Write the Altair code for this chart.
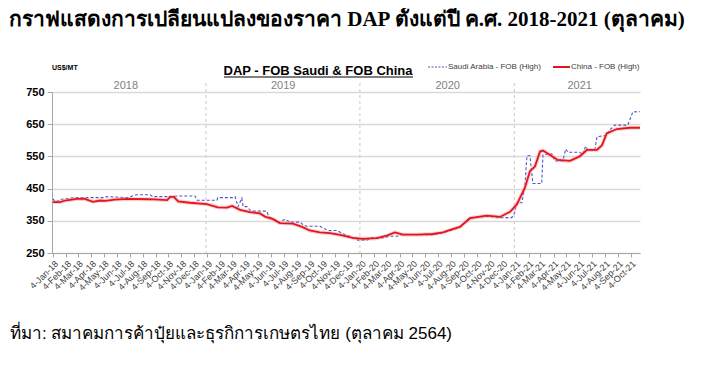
import altair as alt
import pandas as pd

# ---------------- data ----------------
china_dates = ["2018/01/03", "2018/01/20", "2018/02/01", "2018/03/01", "2018/03/20", "2018/04/08",
               "2018/04/25", "2018/05/07", "2018/05/30", "2018/06/28", "2018/08/21", "2018/10/01",
               "2018/10/08", "2018/10/17", "2018/10/27", "2018/11/24", "2019/01/03", "2019/01/29",
               "2019/02/20", "2019/03/04", "2019/03/23", "2019/04/15", "2019/05/09", "2019/05/21",
               "2019/06/09", "2019/06/25", "2019/07/26", "2019/08/17", "2019/09/04", "2019/09/28",
               "2019/10/22", "2019/11/15", "2019/12/15", "2020/01/08", "2020/02/10", "2020/03/05",
               "2020/03/24", "2020/04/12", "2020/05/15", "2020/06/22", "2020/07/16", "2020/08/08",
               "2020/08/25", "2020/09/18", "2020/10/28", "2020/11/28", "2020/12/22", "2021/01/07",
               "2021/01/26", "2021/02/07", "2021/02/19", "2021/03/03", "2021/03/10", "2021/03/26",
               "2021/04/14", "2021/05/13", "2021/06/05", "2021/06/22", "2021/07/16", "2021/07/28",
               "2021/08/08", "2021/09/01", "2021/10/02", "2021/10/26"]
china_values = [408, 408, 413, 418, 418, 409,
                413, 412, 416, 418, 417, 414,
                424, 424, 410, 406, 402, 392,
                391, 396, 384, 377, 373, 363,
                355, 343, 341, 331, 320, 314,
                312, 306, 297, 294, 296, 304,
                314, 307, 307, 309, 314, 324,
                331, 358, 366, 362, 378, 401,
                452, 504, 519, 565, 568, 555,
                539, 536, 550, 570, 570, 585,
                621, 635, 639, 639]

saudi_dates = ["2018/01/03", "2018/01/10", "2018/01/20", "2018/02/24", "2018/05/06", "2018/05/11",
               "2018/06/28", "2018/07/21", "2018/08/21", "2018/08/28", "2018/10/08", "2018/10/24",
               "2018/12/06", "2018/12/11", "2019/01/27", "2019/01/29", "2019/03/06", "2019/03/11",
               "2019/03/18", "2019/03/27", "2019/03/30", "2019/04/08", "2019/04/15", "2019/04/20",
               "2019/05/25", "2019/05/30", "2019/06/25", "2019/07/07", "2019/07/19", "2019/08/12",
               "2019/08/19", "2019/08/28", "2019/09/28", "2019/10/17", "2019/11/07", "2019/11/22",
               "2019/12/08", "2019/12/27", "2020/01/18", "2020/01/25", "2020/02/24", "2020/03/12",
               "2020/03/29", "2020/04/12", "2020/05/15", "2020/06/22", "2020/07/16", "2020/08/08",
               "2020/08/25", "2020/09/18", "2020/10/28", "2020/11/28", "2020/12/26", "2021/01/02",
               "2021/01/07", "2021/01/19", "2021/01/26", "2021/01/31", "2021/02/07", "2021/02/14",
               "2021/03/07", "2021/03/10", "2021/03/31", "2021/04/07", "2021/04/26", "2021/05/03",
               "2021/05/08", "2021/06/05", "2021/06/12", "2021/06/19", "2021/06/24", "2021/07/11",
               "2021/07/16", "2021/08/08", "2021/08/15", "2021/08/27", "2021/09/27", "2021/10/09",
               "2021/10/26"]
saudi_values = [418, 408, 416, 422, 422, 425,
                422, 431, 431, 425, 425, 427,
                427, 414, 414, 422, 422, 425,
                394, 420, 394, 394, 384, 380,
                380, 363, 345, 355, 346, 346,
                338, 333, 333, 320, 320, 310,
                302, 290, 290, 297, 297, 302,
                302, 308, 307, 306, 313, 322,
                330, 358, 364, 360, 360, 376,
                406, 406, 458, 552, 552, 466,
                466, 555, 558, 536, 536, 573,
                563, 563, 555, 582, 570, 570,
                611, 615, 632, 647, 647, 688,
                689]

year_labels = ["2018", "2019", "2020", "2021"]
year_label_dates = ["2018/06/25", "2019/07/03", "2020/07/27", "2021/06/05"]
year_break_dates = ["2019/01/01", "2020/01/01", "2021/01/01"]
y_ticks = [250, 350, 450, 550, 650, 750]

main_title = "กราฟแสดงการเปลี่ยนแปลงของราคา DAP ตั้งแต่ปี ค.ศ. 2018-2021 (ตุลาคม)"
chart_title = "DAP - FOB Saudi & FOB China"
unit_label = "US$/MT"
legend_saudi = "Saudi Arabia - FOB (High)"
legend_china = "China - FOB (High)"
footer = "ที่มา: สมาคมการค้าปุ๋ยและธุรกิการเกษตรไทย (ตุลาคม 2564)"

W, H = 588, 161

# monthly tick positions (the 4th of each month, Jan-18 .. Oct-21)
tick_values = [alt.DateTime(year=y, month=m, date=4)
               for y in range(2018, 2022) for m in range(1, 13)
               if not (y == 2021 and m > 10)]

x_scale = alt.Scale(domain=[alt.DateTime(year=2018, month=1, date=1),
                            alt.DateTime(year=2021, month=10, date=26)])
y_scale = alt.Scale(domain=[250, 750], nice=False, zero=False)

china_df = pd.DataFrame({"date": china_dates, "value": china_values})
saudi_df = pd.DataFrame({"date": saudi_dates, "value": saudi_values})
years_df = pd.DataFrame({"date": year_label_dates, "label": year_labels})
breaks_df = pd.DataFrame({"date": year_break_dates})
one = pd.DataFrame({"k": [0]})

x_axis = alt.Axis(values=tick_values, format="%-d-%b-%y", labelAngle=-45,
                  labelFontSize=9, labelColor="#404040", labelFont="Liberation Sans",
                  tickColor="#a6a6a6", tickSize=4, domainColor="#a6a6a6", grid=False,
                  title=None, labelOverlap=False, labelPadding=2)
y_axis = alt.Axis(values=y_ticks, labelFontSize=11, labelFontWeight="bold",
                  labelColor="#000000", labelFont="Liberation Sans",
                  tickColor="#a6a6a6", tickSize=5, domainColor="#a6a6a6",
                  grid=True, gridColor="#d9d9d9", gridWidth=1.5, title=None,
                  labelPadding=3)

X = alt.X("date:T", scale=x_scale, axis=x_axis)
Y = alt.Y("value:Q", scale=y_scale, axis=y_axis)

saudi_line = alt.Chart(saudi_df).mark_line(
    color="#5252cc", strokeWidth=1.1, strokeDash=[3, 2]
).encode(x=X, y=Y)

breaks = alt.Chart(breaks_df).mark_rule(
    color="#c8c8c8", strokeWidth=1, strokeDash=[3, 3]
).encode(x=X, y=alt.value(-9), y2=alt.value(H))

china_halo = alt.Chart(china_df).mark_line(
    color="#f29a9a", strokeWidth=4, opacity=0.45
).encode(x=X, y=Y)
china_line = alt.Chart(china_df).mark_line(
    color="#e3161e", strokeWidth=1.8
).encode(x=X, y=Y)

year_text = alt.Chart(years_df).mark_text(
    fontSize=11, color="#7f7f7f", font="Liberation Sans", baseline="bottom"
).encode(x=X, y=alt.value(-1), text="label:N")

def label(text, x, y, **kw):
    return alt.Chart(one).mark_text(**kw).encode(
        x=alt.value(x), y=alt.value(y), text=alt.value(text))

def seg(x1, x2, y, **kw):
    return alt.Chart(one).mark_rule(**kw).encode(
        x=alt.value(x1), x2=alt.value(x2), y=alt.value(y))

decor = [
    label(main_title, -43, -72, fontSize=21, fontWeight="bold", align="left",
          baseline="middle", color="#000000", font="Liberation Sans Narrow"),
    label(chart_title, 266, -17, fontSize=13, fontWeight="bold", align="center",
          baseline="alphabetic", color="#000000", font="Liberation Sans"),
    seg(172, 361, -15, color="#000000", strokeWidth=1),
    label(unit_label, 0, -24, fontSize=7, fontWeight="bold", align="left",
          baseline="middle", color="#000000", font="Liberation Sans"),
    seg(376, 395, -25, color="#5252cc", strokeWidth=1.1, strokeDash=[2, 1.5]),
    label(legend_saudi, 396, -25, fontSize=8, align="left", baseline="middle",
          color="#404040", font="Liberation Sans"),
    seg(501, 518, -25, color="#e3161e", strokeWidth=2),
    label(legend_china, 519, -25, fontSize=8, align="left", baseline="middle",
          color="#404040", font="Liberation Sans"),
    label(footer, -42, 242, fontSize=17, align="left", baseline="middle",
          color="#000000", font="Liberation Sans"),
]

chart = alt.layer(saudi_line, breaks, china_halo, china_line, year_text, *decor).properties(
    width=W, height=H, autosize="none",
    padding={"left": 44, "top": 84, "right": 56, "bottom": 100},
    background="white",
).configure_view(stroke=None)

chart.save("out.html", embed_options={"renderer": "svg", "actions": False})
